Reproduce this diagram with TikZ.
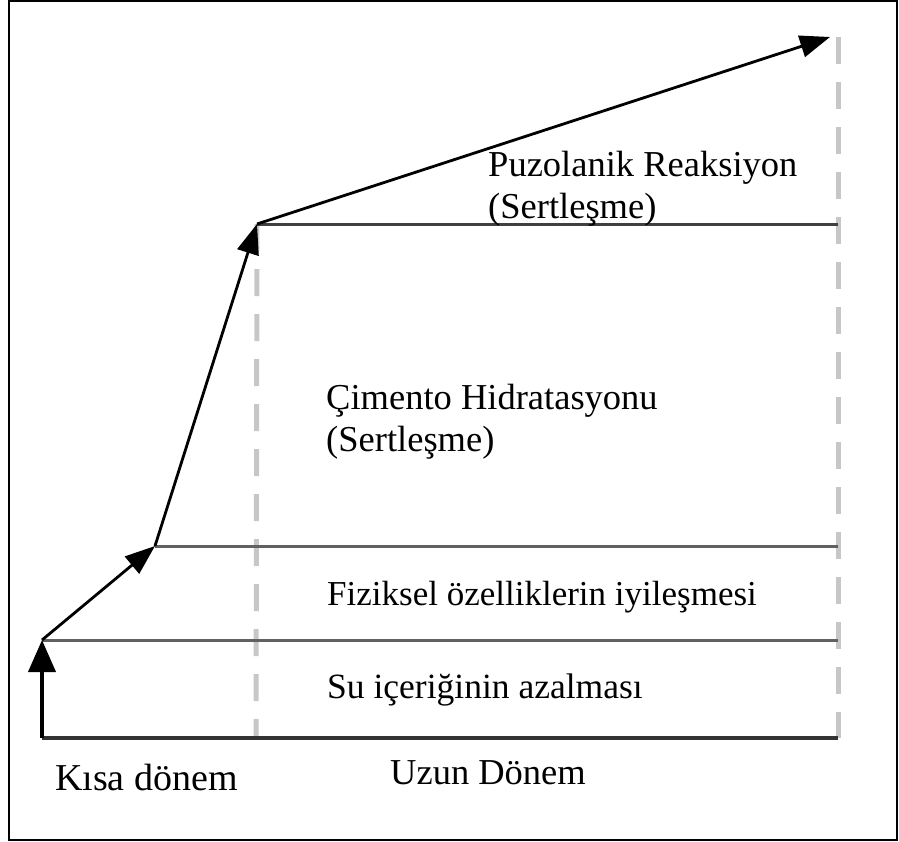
\documentclass[tikz,border=0pt]{standalone}
\usepackage{fontspec}
\setmainfont{Liberation Serif}
\usetikzlibrary{arrows.meta}
\begin{document}
\begin{tikzpicture}[x=1pt,y=-1pt,
  arr/.style={line width=2.8pt,black,-{Triangle[length=30pt,width=22pt]}},
  grid/.style={line width=3pt,black!62},
  guide/.style={line width=5pt,black!22,dash pattern=on 27pt off 18pt},
  lbl/.style={anchor=west,inner sep=0pt,font=\fontsize{35}{42}\selectfont,align=left},
  axis/.style={line width=4pt,black!80}]
\useasboundingbox (0,0) rectangle (899,841);
\draw[line width=2pt] (9,1) rectangle (897,840);
% coordinates
\coordinate (o) at (42,738);
\coordinate (p1) at (42,640);
\coordinate (p2) at (155,546);
\coordinate (p3) at (257,224);
\coordinate (p4) at (830,37);
\coordinate (r0) at (838,738);
\coordinate (r1) at (838,640);
\coordinate (r2) at (838,546);
\coordinate (r3) at (838,224);
\coordinate (rt) at (838,37);
\coordinate (l0) at (256,738);
% dashed guides
\draw[guide] (p3) -- (l0);
\draw[guide] (rt) -- (r0);
% horizontal lines
\draw[grid] (p1) -- (r1);
\draw[grid] (p2) -- (r2);
\draw[line width=3pt,black!75] (p3) -- (r3);
\draw[axis] (o) -- (r0);
% arrows
\draw[line width=4pt,black,-{Triangle[length=32pt,width=27pt]}] (o) -- (p1);
\draw[arr] (p1) -- (p2);
\draw[arr] (p2) -- (p3);
\draw[arr] (p3) -- (p4);
% labels
\node[lbl,font=\fontsize{36.5}{42}\selectfont] (t1) at (488,189) {Puzolanik Reaksiyon\\(Sertleşme)};
\node[lbl,font=\fontsize{36.5}{42}\selectfont] (t2) at (326,422) {Çimento Hidratasyonu\\(Sertleşme)};
\node[lbl] (t3) at (327,597) {Fiziksel özelliklerin iyileşmesi};
\node[lbl,font=\fontsize{35.5}{42}\selectfont] (t4) at (327,690) {Su içeriğinin azalması};
\node[lbl,font=\fontsize{38}{42}\selectfont] (t5) at (55,777) {Kısa dönem};
\node[lbl,font=\fontsize{36.5}{42}\selectfont] (t6) at (390,773) {Uzun Dönem};
\end{tikzpicture}
\end{document}
